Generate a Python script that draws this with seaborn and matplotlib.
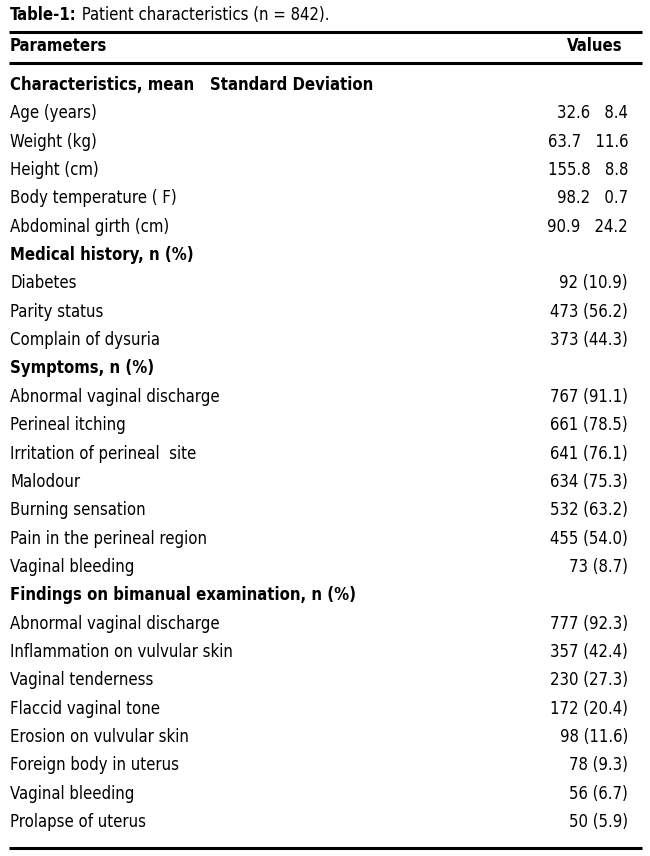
import matplotlib.pyplot as plt
import seaborn as sns
from matplotlib import font_manager

# Table content
title_bold = "Table-1:"
title_rest = " Patient characteristics (n = 842)."
col_headers = ["Parameters", "Values"]

sections = [
    "Characteristics, mean   Standard Deviation",
    "Medical history, n (%)",
    "Symptoms, n (%)",
    "Findings on bimanual examination, n (%)",
]
char_params = ["Age (years)", "Weight (kg)", "Height (cm)", "Body temperature ( F)", "Abdominal girth (cm)"]
char_values = ["32.6   8.4", "63.7   11.6", "155.8   8.8", "98.2   0.7", "90.9   24.2"]
hist_params = ["Diabetes", "Parity status", "Complain of dysuria"]
hist_values = ["92 (10.9)", "473 (56.2)", "373 (44.3)"]
symp_params = ["Abnormal vaginal discharge", "Perineal itching", "Irritation of perineal  site", "Malodour",
               "Burning sensation", "Pain in the perineal region", "Vaginal bleeding"]
symp_values = ["767 (91.1)", "661 (78.5)", "641 (76.1)", "634 (75.3)", "532 (63.2)", "455 (54.0)", "73 (8.7)"]
find_params = ["Abnormal vaginal discharge", "Inflammation on vulvular skin", "Vaginal tenderness",
               "Flaccid vaginal tone", "Erosion on vulvular skin", "Foreign body in uterus",
               "Vaginal bleeding", "Prolapse of uterus"]
find_values = ["777 (92.3)", "357 (42.4)", "230 (27.3)", "172 (20.4)", "98 (11.6)", "78 (9.3)",
               "56 (6.7)", "50 (5.9)"]

sns.set_theme(style="white")
names = {f.name for f in font_manager.fontManager.ttflist}
fam = ["Liberation Sans Narrow", "DejaVu Sans"] if "Liberation Sans Narrow" in names else ["DejaVu Sans"]
plt.rcParams["font.family"] = fam
plt.rcParams["text.color"] = "black"
stretch = "normal" if fam[0] != "DejaVu Sans" else "condensed"

fig = plt.figure(figsize=(6.5, 8.56), dpi=100)
ax = fig.add_axes([0, 0, 1, 1])
ax.set_xlim(0, 650)
ax.set_ylim(856, 0)
ax.axis("off")

fs = 12
xl, xr = 10, 628
kw = dict(fontsize=fs, va="center", fontstretch=stretch, color="black")

# title
t = ax.text(xl, 15, title_bold, fontweight="bold", ha="left", **kw)
fig.canvas.draw()
bb = t.get_window_extent().transformed(ax.transData.inverted())
ax.text(bb.x1, 15, title_rest, ha="left", **kw)

for y in (32, 63, 848):
    ax.plot([9, 642], [y, y], color="black", lw=2.2, solid_capstyle="butt")

ax.text(xl, 46, col_headers[0], fontweight="bold", ha="left", **kw)
ax.text(623, 46, col_headers[1], fontweight="bold", ha="right", **kw)

rows = []
for head, params, vals in zip(sections,
                              [char_params, hist_params, symp_params, find_params],
                              [char_values, hist_values, symp_values, find_values]):
    rows.append((head, "", True))
    rows += [(p, v, False) for p, v in zip(params, vals)]

y0, dy = 85, (822 - 85) / (len(rows) - 1)
for i, (label, val, bold) in enumerate(rows):
    y = y0 + i * dy
    ax.text(xl, y, label, fontweight="bold" if bold else "normal", ha="left", **kw)
    if val:
        ax.text(xr, y, val, ha="right", **kw)

fig.savefig("out.png", dpi=100, facecolor="white")
